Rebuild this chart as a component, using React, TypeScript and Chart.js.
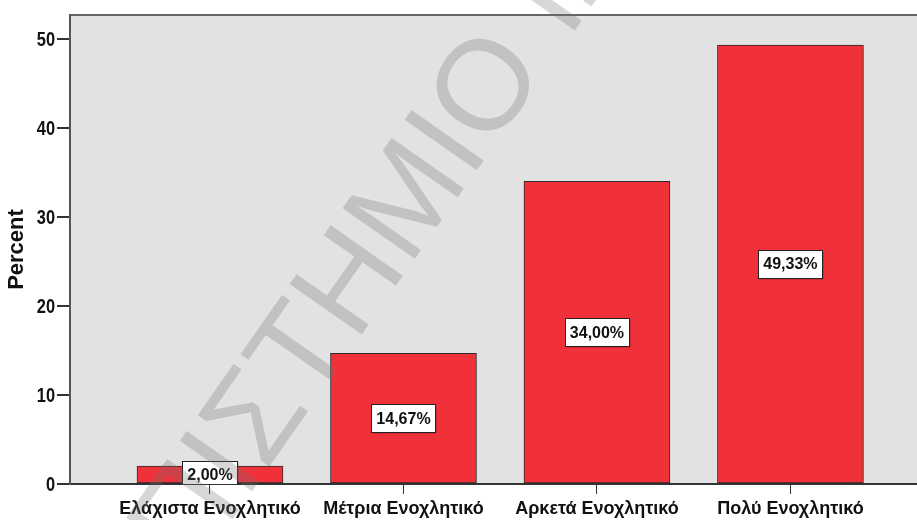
import React, { useEffect, useRef } from 'react';
import { Chart, registerables } from 'chart.js';

Chart.register(...registerables);

const categories = ['Ελάχιστα Ενοχλητικό', 'Μέτρια Ενοχλητικό', 'Αρκετά Ενοχλητικό', 'Πολύ Ενοχλητικό'];
const percents = [2.0, 14.67, 34.0, 49.33];
const yTicks = [0, 10, 20, 30, 40, 50];
const yAxisTitle = 'Percent';
const watermarkText = 'ΠΑΝΕΠΙΣΤΗΜΙΟ ΙΩΑΝΝΙΝΩΝ';
const watermarkPrefix = 'ΠΑΝΕΠΙΣΤΗΜ';

const SANS = '"Liberation Sans", Arial, sans-serif';

const bgPlugin = {
  id: 'plotBg',
  beforeDraw(chart: any) {
    const { ctx, chartArea: a } = chart;
    ctx.save();
    ctx.fillStyle = '#e2e2e2';
    ctx.fillRect(a.left, a.top, a.right - a.left, a.bottom - a.top);
    ctx.strokeStyle = '#666';
    ctx.lineWidth = 2;
    ctx.beginPath();
    ctx.moveTo(a.left, a.top);
    ctx.lineTo(a.right, a.top);
    ctx.stroke();
    ctx.restore();
  },
};

const valueLabelPlugin = {
  id: 'valueLabels',
  afterDatasetsDraw(chart: any) {
    const { ctx, chartArea: a } = chart;
    const meta = chart.getDatasetMeta(0);
    ctx.save();
    ctx.beginPath();
    ctx.rect(a.left, a.top, a.right - a.left, a.bottom - a.top);
    ctx.clip();
    ctx.font = 'bold 16px ' + SANS;
    ctx.textAlign = 'center';
    ctx.textBaseline = 'middle';
    meta.data.forEach((bar: any, i: number) => {
      const { x, y, base } = bar.getProps(['x', 'y', 'base'], true);
      const cy = (y + base) / 2;
      const text = percents[i].toFixed(2).replace('.', ',') + '%';
      const w = Math.round(ctx.measureText(text).width + 10);
      const h = 28;
      const bx = Math.round(x - w / 2) + 0.5;
      const by = Math.round(cy - h / 2) + 0.5;
      ctx.fillStyle = 'rgba(0,0,0,0.25)';
      ctx.fillRect(bx + 1, by + 1, w, h);
      ctx.fillStyle = '#ffffff';
      ctx.fillRect(bx, by, w, h);
      ctx.strokeStyle = '#222';
      ctx.lineWidth = 1;
      ctx.strokeRect(bx, by, w, h);
      ctx.fillStyle = '#111';
      ctx.fillText(text, x, cy + 1);
    });
    ctx.restore();
  },
};

const yTickLabelPlugin = {
  id: 'yTickLabels',
  afterDraw(chart: any) {
    const { ctx } = chart;
    const ys = chart.scales.y;
    ctx.save();
    ctx.font = 'bold 20px ' + SANS;
    ctx.fillStyle = '#111';
    ctx.textAlign = 'right';
    ctx.textBaseline = 'middle';
    yTicks.forEach((v) => {
      const py = ys.getPixelForValue(v);
      ctx.save();
      ctx.translate(ys.right - 15, py + 1);
      ctx.scale(0.82, 1);
      ctx.fillText(String(v), 0, 0);
      ctx.restore();
    });
    ctx.restore();
  },
};

const watermarkPlugin = {
  id: 'watermark',
  afterDraw(chart: any) {
    const { ctx } = chart;
    ctx.save();
    ctx.translate(470, 180);
    ctx.rotate((-55 * Math.PI) / 180);
    ctx.font = '128px ' + SANS;
    ctx.fillStyle = 'rgba(110,110,110,0.28)';
    ctx.textBaseline = 'alphabetic';
    ctx.textAlign = 'left';
    const off = ctx.measureText(watermarkPrefix).width;
    ctx.fillText(watermarkText, -off, 0);
    ctx.restore();
  },
};

export default function App() {
  const ref = useRef<HTMLCanvasElement | null>(null);

  useEffect(() => {
    document.body.style.margin = '0';
    const canvas = ref.current;
    if (!canvas) return;
    const chart = new Chart(canvas, {
      type: 'bar',
      data: {
        datasets: [
          {
            data: percents.map((v, i) => ({ x: i, y: v })),
            backgroundColor: '#f0313a',
            borderColor: '#2b2b2b',
            borderWidth: 1,
            borderSkipped: false,
            barThickness: 146,
          } as any,
        ],
      },
      options: {
        responsive: false,
        animation: false,
        devicePixelRatio: 1,
        layout: { padding: { top: 15, left: 0, right: 0, bottom: 0 } },
        plugins: {
          legend: { display: false },
          tooltip: { enabled: false },
        },
        scales: {
          x: {
            type: 'linear',
            offset: false,
            min: -0.7235,
            max: 3.654,
            afterBuildTicks: (s: any) => {
              s.ticks = categories.map((_, i) => ({ value: i }));
            },
            afterFit: (s: any) => {
              s.height = 36;
            },
            grid: {
              display: true,
              offset: false,
              drawOnChartArea: false,
              drawTicks: true,
              tickLength: 10,
              color: '#333',
              lineWidth: 1,
            },
            border: { display: true, color: '#333', width: 2 },
            ticks: {
              callback: (v: any) => categories[v] ?? '',
              autoSkip: false,
              maxRotation: 0,
              minRotation: 0,
              padding: 4,
              color: '#111',
              font: { family: SANS, size: 18, weight: 'bold' },
            },
          },
          y: {
            type: 'linear',
            offset: false,
            min: 0,
            max: 52.7,
            afterBuildTicks: (s: any) => {
              s.ticks = yTicks.map((v) => ({ value: v }));
            },
            afterFit: (s: any) => {
              s.width = 70;
            },
            grid: {
              display: true,
              offset: false,
              drawOnChartArea: false,
              tickLength: 13,
              color: '#333',
              lineWidth: 2,
            },
            border: { display: true, color: '#555', width: 2 },
            ticks: {
              display: false,
            },
            title: {
              display: true,
              text: yAxisTitle,
              color: '#111',
              font: { family: SANS, size: 22, weight: 'bold' },
              padding: { top: 4, bottom: 0 },
            },
          },
        },
      } as any,
      plugins: [bgPlugin, valueLabelPlugin, yTickLabelPlugin, watermarkPlugin],
    });
    return () => chart.destroy();
  }, []);

  return (
    <div style={{ width: 917, height: 520, position: 'relative', background: '#fff' }}>
      <canvas ref={ref} width={917} height={520} style={{ display: 'block' }} />
    </div>
  );
}
